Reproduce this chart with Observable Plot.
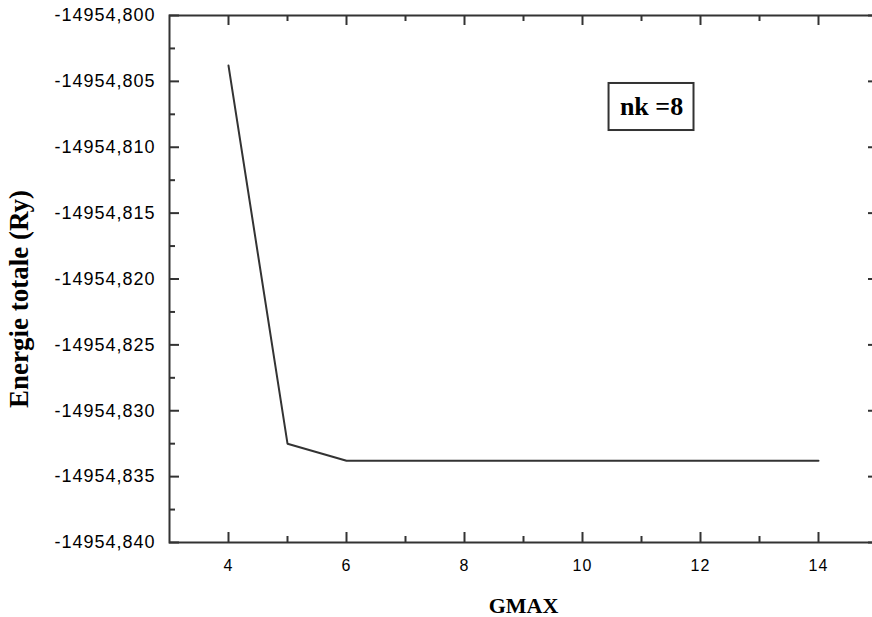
<!DOCTYPE html>
<html>
<head>
<meta charset="utf-8">
<script src="https://cdn.jsdelivr.net/npm/d3@7"></script>
<script src="https://cdn.jsdelivr.net/npm/@observablehq/plot@0.6"></script>
<style>
  html, body { margin: 0; padding: 0; background: #fff; }
  #wrap { width: 872px; height: 617px; overflow: hidden; position: relative; }
  #wrap svg { max-width: none !important; }
  g[aria-label="y-axis tick label"] text { letter-spacing: 1px; }
  g[aria-label="x-axis tick label"] text { letter-spacing: 1px; }
</style>
</head>
<body>
<div id="wrap"></div>
<script>
// Data
const gmax = [4, 5, 6, 7, 8, 9, 10, 11, 12, 13, 14];
const energy = [-14954.8038, -14954.8325, -14954.8338, -14954.8338, -14954.8338, -14954.8338,
                -14954.8338, -14954.8338, -14954.8338, -14954.8338, -14954.8338];

// Tick values
const xMajor = [4, 6, 8, 10, 12, 14];
const xMinor = [5, 7, 9, 11, 13];
const yMajor = [-14954.840, -14954.835, -14954.830, -14954.825, -14954.820, -14954.815, -14954.810, -14954.805, -14954.800];
const yMinor = [-14954.8375, -14954.8325, -14954.8275, -14954.8225, -14954.8175, -14954.8125, -14954.8075, -14954.8025];

// Titles
const yTitle = "Energie totale (Ry)";
const xTitle = "GMAX";

// Annotation
const noteText = "nk =8";
const noteBox = {x1: 10.45, x2: 11.89, y1: -14954.80516, y2: -14954.80873};

const data = gmax.map((g, i) => ({g, e: energy[i]}));

const W = 877, H = 617;
const mL = 169, mR = 0, mT = 15, mB = 75;
const plotW = W - mL - mR, plotH = H - mT - mB;

const loc = d3.formatLocale({decimal: ",", thousands: "", grouping: [3], currency: ["", ""], minus: "-"});
const fmt = loc.format(".3f");

const ink = "#333";
const serif = "'Liberation Serif', 'Times New Roman', serif";
const sans = "'Liberation Sans', Arial, sans-serif";

const chart = Plot.plot({
  width: W,
  height: H,
  marginLeft: mL,
  marginRight: mR,
  marginTop: mT,
  marginBottom: mB,
  x: {domain: [3, 15]},
  y: {domain: [-14954.840, -14954.800]},
  style: {background: "#fff", color: "#000", maxWidth: "none"},
  marks: [
    // tick labels
    Plot.axisY(yMajor, {anchor: "left", tickSize: 0, tickPadding: 14, tickFormat: fmt,
      fontSize: 18, fontFamily: sans, fill: "#000", label: null}),
    Plot.axisX(xMajor, {anchor: "bottom", tickSize: 0, tickPadding: 17, tickFormat: d => String(d),
      fontSize: 16, fontFamily: sans, fill: "#000",
      label: xTitle, labelAnchor: "center", labelOffset: 70, labelArrow: "none"}),
    // y title
    Plot.text([yTitle], {text: d => d, frameAnchor: "left", textAnchor: "middle", rotate: -90, dx: -150, dy: 20,
      fontSize: 27, fontWeight: "bold", fontFamily: serif, fill: "#000"}),
    // ticks left
    Plot.tickY(yMajor, {y: d => d, insetRight: plotW - 10, stroke: ink, strokeWidth: 2}),
    Plot.tickY(yMinor, {y: d => d, insetRight: plotW - 6, stroke: ink, strokeWidth: 2}),
    // ticks right
    Plot.tickY(yMajor, {y: d => d, insetLeft: plotW - 9, stroke: ink, strokeWidth: 2}),
    // ticks bottom
    Plot.tickX(xMajor, {x: d => d, insetTop: plotH - 10, stroke: ink, strokeWidth: 2}),
    Plot.tickX(xMinor, {x: d => d, insetTop: plotH - 6, stroke: ink, strokeWidth: 2}),
    // ticks top
    Plot.tickX(xMajor, {x: d => d, insetBottom: plotH - 10, stroke: ink, strokeWidth: 2}),
    Plot.tickX(xMinor, {x: d => d, insetBottom: plotH - 6, stroke: ink, strokeWidth: 2}),
    // frame
    Plot.frame({stroke: ink, strokeWidth: 2}),
    // data line
    Plot.line(data, {x: "g", y: "e", stroke: ink, strokeWidth: 2}),
    // annotation
    Plot.rect([noteBox], {x1: "x1", x2: "x2", y1: "y1", y2: "y2", fill: "none", stroke: ink, strokeWidth: 2}),
    Plot.text([noteBox], {x: d => (d.x1 + d.x2) / 2, y: d => (d.y1 + d.y2) / 2, text: () => noteText,
      fontSize: 26, fontWeight: "bold", fontFamily: serif, fill: "#000"})
  ]
});

chart.querySelectorAll('g[aria-label="x-axis label"] text').forEach(t => {
  t.setAttribute("font-family", serif);
  t.setAttribute("font-weight", "bold");
  t.style.fontFamily = serif;
  t.style.fontWeight = "bold";
  t.style.fontSize = "22px";
});

document.getElementById("wrap").appendChild(chart);
</script>
</body>
</html>
